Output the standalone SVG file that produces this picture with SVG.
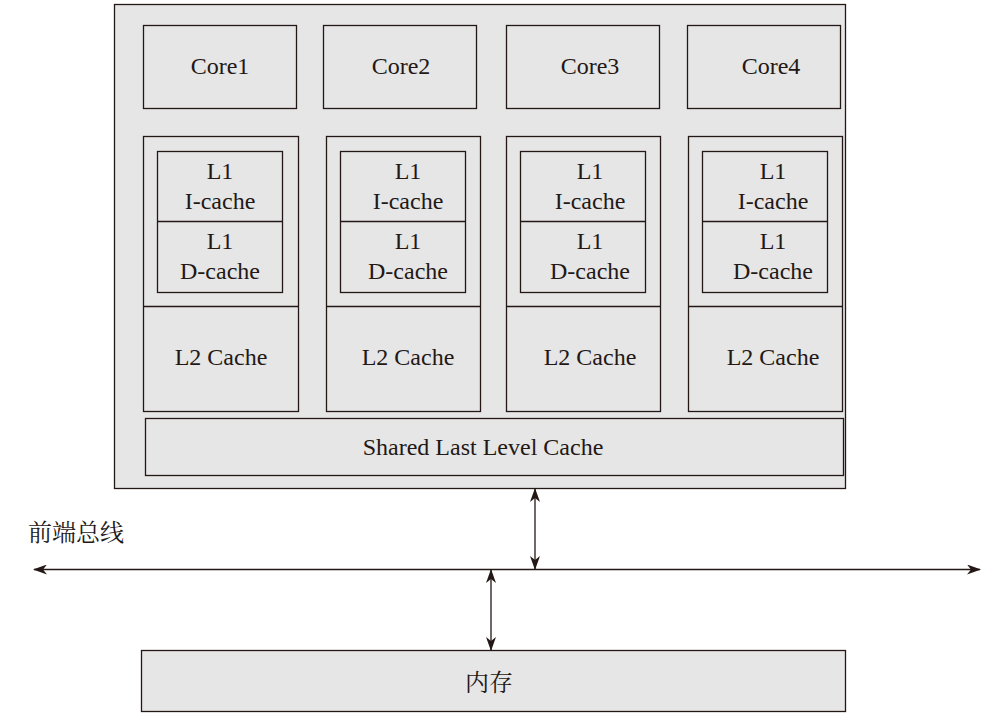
<svg xmlns="http://www.w3.org/2000/svg" width="1008" height="726" viewBox="0 0 1008 726">
<style>
.box{fill:#e6e6e6;stroke:#231815;stroke-width:1.3}
.ln{fill:none;stroke:#231815;stroke-width:1.3}
.t{font-family:"Liberation Serif","Times New Roman",serif;font-size:24px;fill:#231815;text-anchor:middle}
.c{font-family:"Noto Serif CJK SC","Noto Sans CJK SC",serif;font-size:24px;fill:#231815}
</style>
<defs>
<marker id="ah" viewBox="0 0 14 10" refX="13" refY="5" markerWidth="14" markerHeight="10" markerUnits="userSpaceOnUse" orient="auto-start-reverse">
<path d="M0,0 L14,5 L0,10 L4,5 Z" fill="#231815"/>
</marker>
</defs>
<g id="cpu"><rect class="box" x="114.5" y="4.5" width="731" height="484"/></g>
<g id="core1"><rect class="box" x="143.5" y="25.5" width="153" height="83"/><text class="t" x="220" y="74">Core1</text></g>
<g id="core2"><rect class="box" x="323.5" y="25.5" width="153" height="83"/><text class="t" x="401" y="74">Core2</text></g>
<g id="core3"><rect class="box" x="506.5" y="25.5" width="153" height="83"/><text class="t" x="590" y="74">Core3</text></g>
<g id="core4"><rect class="box" x="687.5" y="25.5" width="153" height="83"/><text class="t" x="771" y="74">Core4</text></g>

<g id="col1">
<rect class="box" x="143.5" y="136.5" width="155" height="275"/>
<line class="ln" x1="143.5" y1="306.5" x2="298.5" y2="306.5"/>
<rect class="box" x="157.5" y="151.5" width="125" height="141"/>
<line class="ln" x1="157.5" y1="221.5" x2="282.5" y2="221.5"/>
<text class="t" x="220" y="179">L1</text><text class="t" x="220" y="209">I-cache</text>
<text class="t" x="220" y="249">L1</text><text class="t" x="220" y="279">D-cache</text>
<text class="t" x="221" y="365">L2 Cache</text>
</g>
<g id="col2">
<rect class="box" x="326.5" y="136.5" width="154" height="275"/>
<line class="ln" x1="326.5" y1="306.5" x2="480.5" y2="306.5"/>
<rect class="box" x="340.5" y="151.5" width="125" height="141"/>
<line class="ln" x1="340.5" y1="221.5" x2="465.5" y2="221.5"/>
<text class="t" x="408" y="179">L1</text><text class="t" x="408" y="209">I-cache</text>
<text class="t" x="408" y="249">L1</text><text class="t" x="408" y="279">D-cache</text>
<text class="t" x="408" y="365">L2 Cache</text>
</g>
<g id="col3">
<rect class="box" x="506.5" y="136.5" width="154" height="275"/>
<line class="ln" x1="506.5" y1="306.5" x2="660.5" y2="306.5"/>
<rect class="box" x="520.5" y="151.5" width="125" height="141"/>
<line class="ln" x1="520.5" y1="221.5" x2="645.5" y2="221.5"/>
<text class="t" x="590" y="179">L1</text><text class="t" x="590" y="209">I-cache</text>
<text class="t" x="590" y="249">L1</text><text class="t" x="590" y="279">D-cache</text>
<text class="t" x="590" y="365">L2 Cache</text>
</g>
<g id="col4">
<rect class="box" x="688.5" y="136.5" width="154" height="275"/>
<line class="ln" x1="688.5" y1="306.5" x2="842.5" y2="306.5"/>
<rect class="box" x="702.5" y="151.5" width="125" height="141"/>
<line class="ln" x1="702.5" y1="221.5" x2="827.5" y2="221.5"/>
<text class="t" x="773" y="179">L1</text><text class="t" x="773" y="209">I-cache</text>
<text class="t" x="773" y="249">L1</text><text class="t" x="773" y="279">D-cache</text>
<text class="t" x="773" y="365">L2 Cache</text>
</g>
<g id="llc"><rect class="box" x="145.5" y="418.5" width="698" height="57"/><text class="t" x="483" y="455">Shared Last Level Cache</text></g>
<g id="bus-label"><text class="c" x="28" y="541">前端总线</text></g>
<g id="memory"><rect class="box" x="141.5" y="650.5" width="704" height="61"/><text class="c" x="489" y="691" text-anchor="middle">内存</text></g>
<g id="connectors">
<line class="ln" x1="34" y1="569.5" x2="980" y2="569.5" marker-start="url(#ah)" marker-end="url(#ah)"/>
<line class="ln" x1="535" y1="489" x2="535" y2="569" marker-start="url(#ah)" marker-end="url(#ah)"/>
<line class="ln" x1="491" y1="570" x2="491" y2="650" marker-start="url(#ah)" marker-end="url(#ah)"/>
</g>
</svg>
